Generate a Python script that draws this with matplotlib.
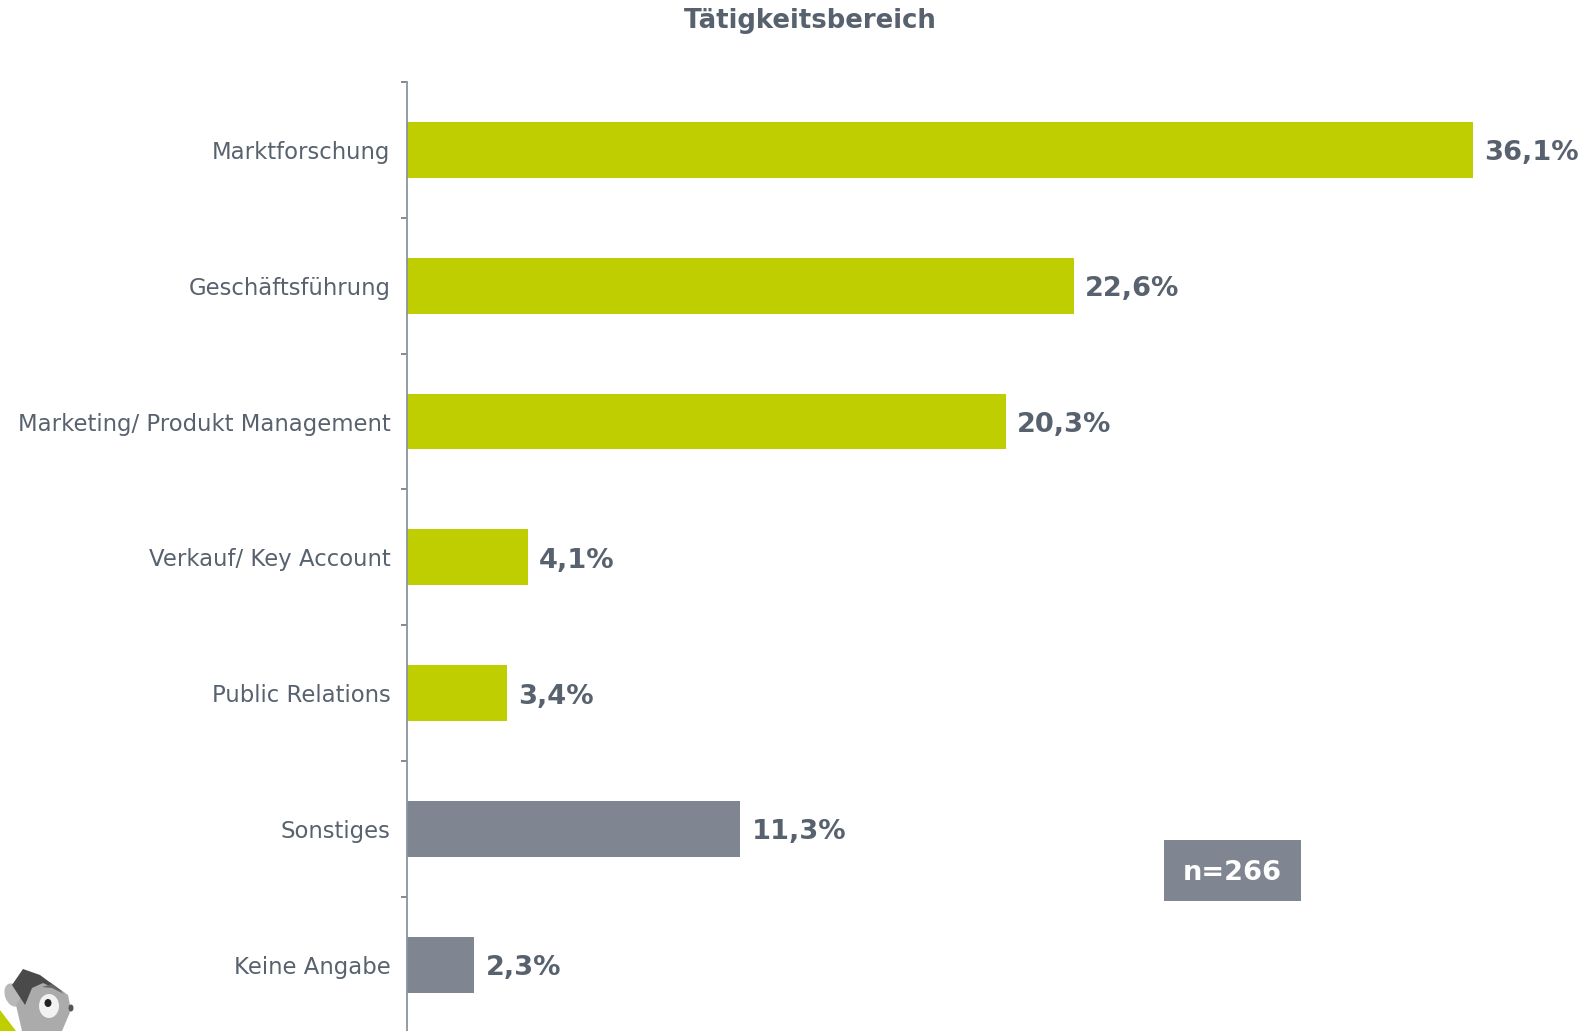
import matplotlib.pyplot as plt
from matplotlib.patches import Ellipse, Polygon, Rectangle

# Daten
categories = ['Marktforschung', 'Geschäftsführung', 'Marketing/ Produkt Management',
              'Verkauf/ Key Account', 'Public Relations', 'Sonstiges', 'Keine Angabe']
values = [36.1, 22.6, 20.3, 4.1, 3.4, 11.3, 2.3]
value_labels = ['36,1%', '22,6%', '20,3%', '4,1%', '3,4%', '11,3%', '2,3%']
bar_colors = ['#BFCE00'] * 5 + ['#808691'] * 2

W, H = 1588, 1031
TEXT = '#58626E'
AXIS = '#8A93A0'

fig = plt.figure(figsize=(W / 100, H / 100), dpi=100)
fig.patch.set_facecolor('white')

# Achse: x ab 406.5 px, y von 82 px bis zum unteren Bildrand
ax = fig.add_axes([406.5 / W, 0, (W - 406.5) / W, (H - 82) / H])
ax.barh(range(len(values)), values, height=0.41, color=bar_colors, zorder=2)
ax.set_xlim(0, (W - 406.5) / 29.54)
ax.set_ylim(-0.5 + (H - 82) / 135.8, -0.5)

for s in ['top', 'right', 'bottom']:
    ax.spines[s].set_visible(False)
ax.spines['left'].set_color(AXIS)
ax.spines['left'].set_linewidth(1.3)
ax.set_xticks([])

ax.set_yticks(range(len(categories)))
ax.set_yticklabels(categories, fontsize=16.4, color=TEXT)
ax.tick_params(axis='y', which='major', length=0, pad=11.5)
ax.set_yticks([i - 0.5 for i in range(len(categories))], minor=True)
ax.tick_params(axis='y', which='minor', length=4.5, width=1.2, color='#6E7682')

for i, v in enumerate(values):
    ax.annotate(value_labels[i], (v, i), xytext=(8, -2.5), textcoords='offset points',
                va='center', ha='left', fontsize=19.6, fontweight='bold', color=TEXT)

# Ueberlagerung in Pixelkoordinaten fuer Titel, n-Box und Figur
ov = fig.add_axes([0, 0, 1, 1], facecolor='none')
ov.set_xlim(0, W)
ov.set_ylim(H, 0)
ov.axis('off')

ov.text(810, 21, 'Tätigkeitsbereich', ha='center', va='center', fontsize=18.7,
        fontweight='bold', color=TEXT)

ov.add_patch(Rectangle((1164, 840), 136.7, 60.7, color='#808691', lw=0))
ov.text(1232, 873, 'n=266', ha='center', va='center', fontsize=19.6,
        fontweight='bold', color='white')

# Maskottchen unten links
ov.add_patch(Polygon([(0, 1010), (16, 1031), (0, 1031)], color='#BFCE00', lw=0))
ov.add_patch(Ellipse((13, 995), 16, 24, angle=-20, color='#B8B8B8', lw=0))
ov.add_patch(Polygon([(22, 1031), (16, 1005), (30, 983), (50, 982), (68, 995),
                      (71, 1010), (62, 1031)], color='#ABABAB', lw=0))
ov.add_patch(Polygon([(12, 985), (23, 969), (40, 975), (63, 992), (43, 983),
                      (32, 988), (25, 1005)], color='#4A4A4A', lw=0))
ov.add_patch(Polygon([(42, 987), (52, 984), (64, 994), (52, 988)], color='#666666', lw=0))
ov.add_patch(Ellipse((49, 1006), 20, 24, color='#F2F2F2', lw=0))
ov.add_patch(Ellipse((48, 1003), 7, 8, color='#222222', lw=0))
ov.add_patch(Ellipse((71, 1008), 5, 7, color='#555555', lw=0))

fig.savefig('out.png', dpi=100)
